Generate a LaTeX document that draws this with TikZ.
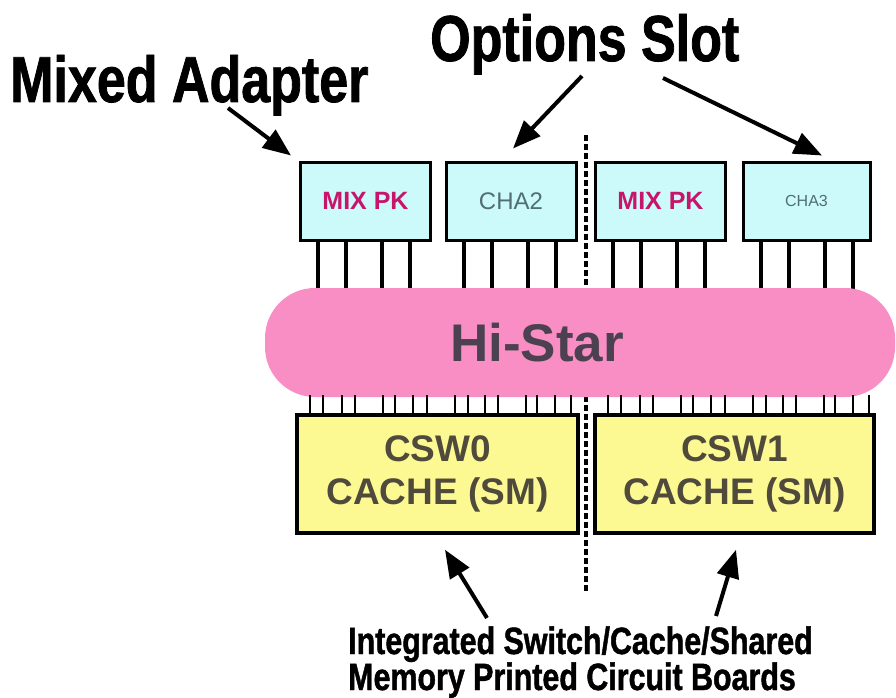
\documentclass[tikz,border=0pt]{standalone}
\usepackage{fontspec}
\usepackage{xcolor}
\usepackage{tikz}
\usetikzlibrary{arrows.meta}
\setmainfont{Liberation Sans}
\newfontfamily\narrowfont[FakeStretch=0.8, BoldFeatures={FakeBold=1.2}]{Liberation Sans}
\definecolor{slotcyan}{HTML}{CCFAFA}
\definecolor{hubpink}{HTML}{F98EC4}
\definecolor{cswyellow}{HTML}{FCF993}
\definecolor{mixred}{HTML}{C8146A}
\definecolor{chagray}{HTML}{506E73}
\definecolor{hubtext}{HTML}{4B4150}
\definecolor{cswtext}{HTML}{4F4A3C}

\begin{document}
\begin{tikzpicture}[x=1pt, y=-1pt,
	slotbox/.style={draw=black, line width=3pt, fill=slotcyan, minimum width=130pt, minimum height=78pt, inner sep=0pt},
	cswbox/.style={draw=black, line width=3.5pt, fill=cswyellow, minimum width=281pt, minimum height=118pt, inner sep=0pt,
		align=center, text=cswtext, font=\fontsize{37}{43}\selectfont\bfseries},
	hubbar/.style={fill=hubpink, minimum width=630pt, minimum height=109pt, rounded corners=50pt, inner sep=0pt},
	pinline/.style={line width=3.5pt},
	callout/.style={inner sep=0pt, font=\narrowfont\fontsize{65}{70}\selectfont\bfseries},
	pcbnote/.style={inner sep=0pt, font=\narrowfont\fontsize{38}{40}\selectfont\bfseries},
	callarrow/.style={line width=4pt, -{Triangle[length=28pt,width=22pt]}}]
		\useasboundingbox (0,0) rectangle (896,698);

		% split between the two halves
		\coordinate (splittop) at (586,135);
		\coordinate (splitbot) at (586,592);
		\draw[line width=4pt, dash pattern=on 6pt off 3pt] (splittop) -- (splitbot);

		% adapter pins down to the bus
		\draw[pinline] (318,240) -- (318,292) (346,240) -- (346,292) (382,240) -- (382,292) (410,240) -- (410,292);
		\draw[pinline] (464,240) -- (464,292) (492,240) -- (492,292) (528,240) -- (528,292) (556,240) -- (556,292);
		\draw[pinline] (613,240) -- (613,292) (641,240) -- (641,292) (677,240) -- (677,292) (705,240) -- (705,292);
		\draw[pinline] (761,240) -- (761,292) (789,240) -- (789,292) (825,240) -- (825,292) (853,240) -- (853,292);

		\node[slotbox] (mix1) at (365.5,201) {\fontsize{25}{26}\selectfont\bfseries\color{mixred}MIX PK};
		\node[slotbox] (cha2) at (511,201) {\fontsize{24}{26}\selectfont\color{chagray}CHA2};
		\node[slotbox] (mix2) at (660.5,201) {\fontsize{25}{26}\selectfont\bfseries\color{mixred}MIX PK};
		\node[slotbox, minimum width=127pt] (cha3) at (806.5,201) {\fontsize{16}{18}\selectfont\color{chagray}CHA3};

		\node[hubbar] (hub) at (580,342.5) {};
		\node[text=hubtext, font=\fontsize{53}{60}\selectfont\bfseries] (hubname) at (537,343) {Hi-Star};

		% board pins up to the bus
		\draw[line width=2.8pt] (310,395) -- (310,416) (323,395) -- (323,416) (342,395) -- (342,416) (355,395) -- (355,416)
			(383,395) -- (383,416) (395,395) -- (395,416) (413,395) -- (413,416) (427,395) -- (427,416)
			(455,395) -- (455,416) (468,395) -- (468,416) (485,395) -- (485,416) (498,395) -- (498,416)
			(526,395) -- (526,416) (537,395) -- (537,416) (555,395) -- (555,416) (571,395) -- (571,416);
		\draw[line width=2.8pt] (608,395) -- (608,416) (621,395) -- (621,416) (640,395) -- (640,416) (653,395) -- (653,416)
			(681,395) -- (681,416) (693,395) -- (693,416) (711,395) -- (711,416) (725,395) -- (725,416)
			(753,395) -- (753,416) (766,395) -- (766,416) (783,395) -- (783,416) (796,395) -- (796,416)
			(824,395) -- (824,416) (835,395) -- (835,416) (853,395) -- (853,416) (869,395) -- (869,416);

		\node[cswbox] (csw0) at (437.5,474) {CSW0\\CACHE (SM)};
		\node[cswbox, minimum width=279pt] (csw1) at (734.5,474) {CSW1\\CACHE (SM)};

		% captions and arrows
		\node[callout, anchor=base west] (mixlabel) at (10,102) {Mixed Adapter};
		\node[callout, anchor=base west] (optlabel) at (430,61) {Options Slot};
		\node[pcbnote, anchor=base west] (pcbline1) at (348,654) {Integrated Switch/Cache/Shared};
		\node[pcbnote, anchor=base west] (pcbline2) at (348,690) {Memory Printed Circuit Boards};

		\coordinate (mixtail) at (228,108);
		\coordinate (opttail1) at (582,76);
		\coordinate (opttail2) at (663,78);
		\coordinate (pcbtail1) at (487,618);
		\coordinate (pcbtail2) at (716,616);
		\draw[callarrow] (mixtail) -- ([shift={(-8,-5)}]mix1.north west);
		\draw[callarrow] (opttail1) -- ([shift={(2,-12)}]cha2.north);
		\draw[callarrow] (opttail2) -- ([shift={(15.5,-5)}]cha3.north);
		\draw[callarrow] (pcbtail1) -- ([shift={(7.5,15)}]csw0.south);
		\draw[callarrow] (pcbtail2) -- ([shift={(1.5,15)}]csw1.south);

	\end{tikzpicture}
\end{document}
